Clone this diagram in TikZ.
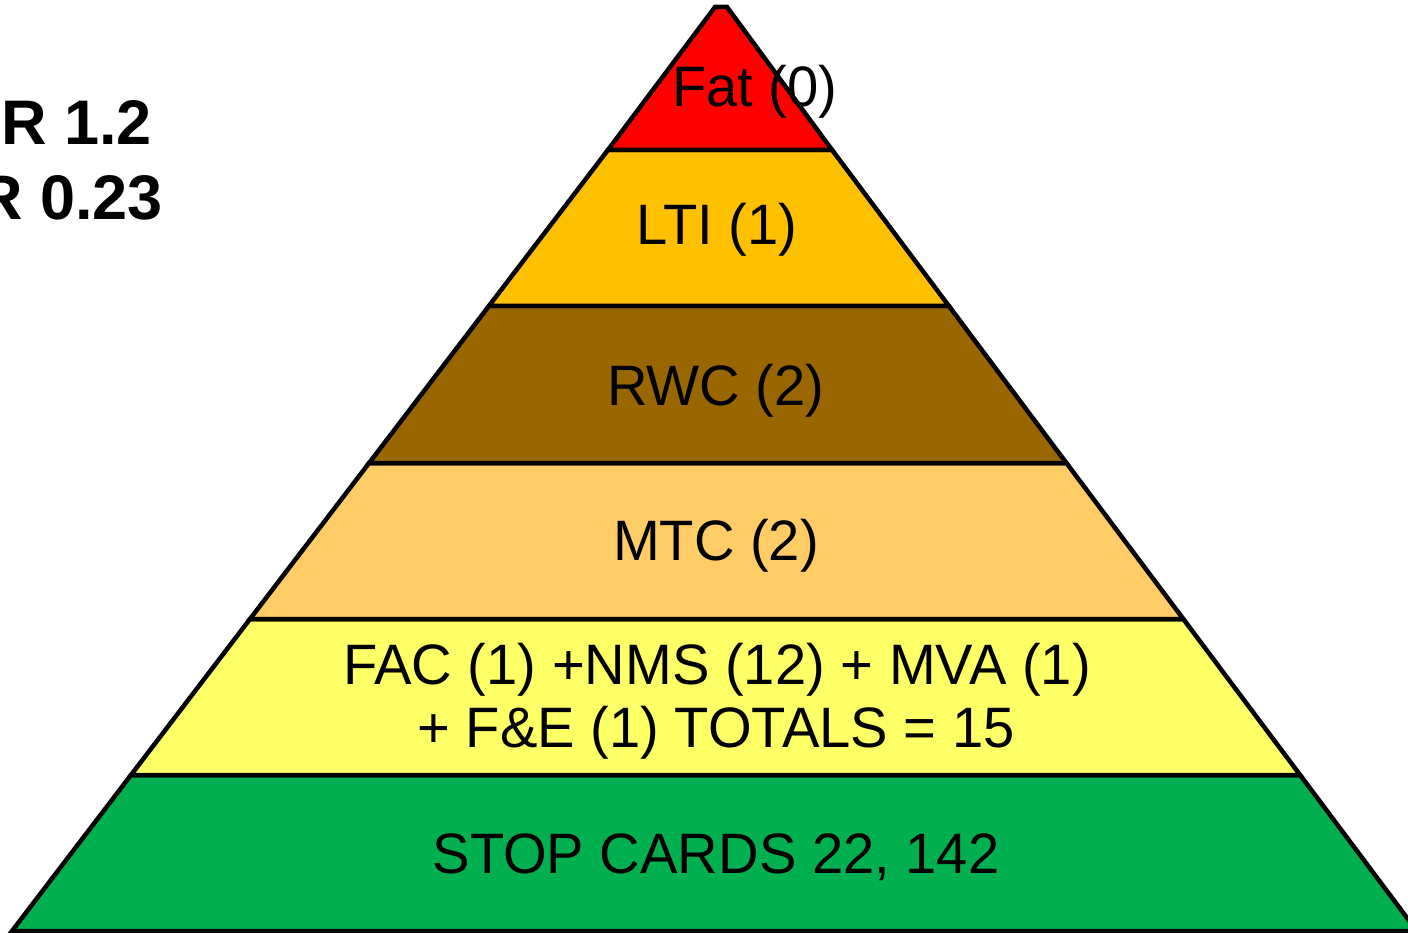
\documentclass[tikz,border=0pt]{standalone}
\usepackage{fontspec}
\setmainfont{Liberation Sans}
\newfontfamily\pyrfont[FakeStretch=0.985]{Liberation Sans}
\definecolor{cFat}{HTML}{FF0000}
\definecolor{cLTI}{HTML}{FFC000}
\definecolor{cRWC}{HTML}{996600}
\definecolor{cMTC}{HTML}{FFCC66}
\definecolor{cFAC}{HTML}{FFFF66}
\definecolor{cSTOP}{HTML}{00B050}
\tikzset{
  band/.style={draw=black, line width=4.5pt, line join=miter},
  lbl/.style={anchor=base, inner sep=0pt, font=\pyrfont\fontsize{57}{64}\selectfont, text=black},
  side/.style={anchor=base east, inner sep=0pt, font=\bfseries\fontsize{63}{70}\selectfont, text=black}
}
\begin{document}
\begin{tikzpicture}[x=1pt,y=-1pt]
\useasboundingbox (0,0) rectangle (1408,933);
\clip (0,0) rectangle (1408,933);
% boundary points
\coordinate (l0) at (715,7);     \coordinate (r0) at (727,7);
\coordinate (l1) at (607.9,150); \coordinate (r1) at (832.1,150);
\coordinate (l2) at (488.9,306); \coordinate (r2) at (948.9,306);
\coordinate (l3) at (369.1,463); \coordinate (r3) at (1066.4,463);
\coordinate (l4) at (250.0,619); \coordinate (r4) at (1183.3,619);
\coordinate (l5) at (131.0,775); \coordinate (r5) at (1300.1,775);
\coordinate (l6) at (12.0,931);  \coordinate (r6) at (1416.9,931);
% bands
\draw[band, fill=cSTOP] (l5) -- (r5) -- (r6) -- (l6) -- cycle;
\draw[band, fill=cFAC]  (l4) -- (r4) -- (r5) -- (l5) -- cycle;
\draw[band, fill=cMTC]  (l3) -- (r3) -- (r4) -- (l4) -- cycle;
\draw[band, fill=cRWC]  (l2) -- (r2) -- (r3) -- (l3) -- cycle;
\draw[band, fill=cLTI]  (l1) -- (r1) -- (r2) -- (l2) -- cycle;
\draw[band, fill=cFat]  (l0) -- (r0) -- (r1) -- (l1) -- cycle;
% labels
\node[lbl, anchor=base west] (fat) at (672,107) {Fat (0)};
\node[lbl] (lti) at (717,245) {LTI (1)};
\node[lbl] (rwc) at (716,405) {RWC (2)};
\node[lbl] (mtc) at (716,560) {MTC (2)};
\node[lbl] (fac1) at (717,684) {FAC (1) +NMS (12) + MVA (1)};
\node[lbl] (fac2) at (716,747) {+ F\&E (1) TOTALS = 15};
\node[lbl] (stop) at (716,873) {STOP CARDS 22, 142};
% side texts
\node[side] (s1) at (152,145) {R 1.2};
\node[side] (s2) at (163,220) {R 0.23};
\end{tikzpicture}
\end{document}
